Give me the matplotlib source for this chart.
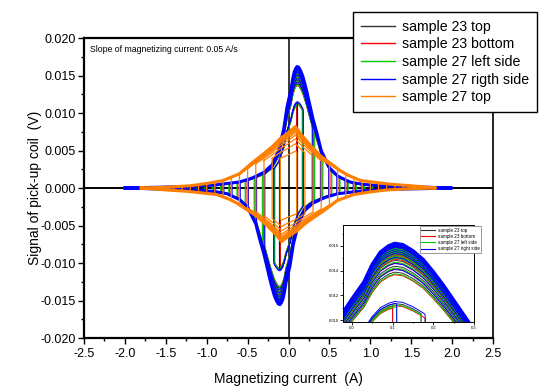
import numpy as np
import matplotlib
matplotlib.use("Agg")
from matplotlib import pyplot as plt
from matplotlib.lines import Line2D
from matplotlib.ticker import MultipleLocator, FormatStrFormatter

plt.rcParams['font.family'] = ['Liberation Sans', 'DejaVu Sans']

# positive branch (rising current) of the largest loop, samples 23 / 27 sides
env_x = np.array([-2.0, -1.6, -1.2, -0.9, -0.6, -0.45, -0.3, -0.2, -0.12, -0.06, -0.04, -0.02,
                  0.0, 0.03, 0.05, 0.07, 0.09, 0.105, 0.125, 0.15, 0.175, 0.2, 0.225, 0.25,
                  0.275, 0.3, 0.35, 0.4, 0.5, 0.6, 0.75, 0.9, 1.1, 1.4, 1.7, 2.0])
env_y = np.array([0.0, 0.0001, 0.0002, 0.0004, 0.0008, 0.0013, 0.0021, 0.0031, 0.0050, 0.0078,
                  0.0092, 0.0107, 0.0117, 0.0131, 0.0145, 0.0155, 0.0160, 0.0162, 0.0161,
                  0.0156, 0.0149, 0.0139, 0.0128, 0.0116, 0.0104, 0.0092, 0.0072, 0.0050,
                  0.0027, 0.0016, 0.0008, 0.0005, 0.0003, 0.0002, 0.0001, 0.0])

# positive branch of the largest loop, sample 27 top
org_x = np.array([-1.8, -1.5, -1.2, -1.0, -0.8, -0.6, -0.43, -0.3, -0.2, -0.1, 0.0, 0.085,
                  0.15, 0.25, 0.39, 0.55, 0.635, 0.73, 0.88, 1.1, 1.25, 1.5, 1.8])
org_y = np.array([0.0, 0.0001, 0.0003, 0.0006, 0.0010, 0.0019, 0.0035, 0.0046, 0.0055, 0.0066,
                  0.0074, 0.0082, 0.0072, 0.0059, 0.0043, 0.0030, 0.0023, 0.0017, 0.0010,
                  0.0007, 0.0005, 0.0003, 0.0])

# turning currents of each loop
amp_23_top = [0.10, 0.17, 0.30, 0.40, 0.50, 0.60, 0.70, 0.80, 0.90, 1.00, 1.10, 1.20, 1.30,
              1.40, 1.50, 1.60, 1.70, 1.80, 1.90]
amp_23_bottom = [0.10, 0.18, 0.31, 0.41, 0.52, 0.62, 0.72, 0.82, 0.92, 1.02, 1.12, 1.22, 1.32,
                 1.42, 1.52, 1.62, 1.72, 1.82, 1.92]
amp_27_left = [0.11, 0.17, 0.32, 0.42, 0.53, 0.63, 0.73, 0.83, 0.93, 1.03, 1.13, 1.23, 1.33,
               1.43, 1.53, 1.63, 1.73, 1.83, 1.93]
amp_27_right = [0.11, 0.18, 0.29, 0.39, 0.49, 0.59, 0.69, 0.79, 0.89, 0.99, 1.09, 1.19, 1.29,
                1.39, 1.49, 1.59, 1.69, 1.79, 1.89, 2.00]
amp_27_top = [0.10, 0.20, 0.30, 0.40, 0.50, 0.60, 0.70, 0.80, 0.90, 1.00, 1.10, 1.20, 1.30,
              1.40, 1.50, 1.60, 1.70, 1.80]

# peak height of each loop relative to the largest one
loop_scale = [0.70, 0.71, 0.87, 0.90, 0.93, 0.95, 0.96, 0.97, 0.98, 0.985, 0.99, 0.99, 0.995,
              0.995, 1.0, 1.0, 1.0, 1.0, 1.0, 1.0]
org_scale = [0.60, 0.72, 0.80, 0.86, 0.90, 0.93, 0.95, 0.96, 0.97, 0.98, 0.99, 0.99, 1.0, 1.0,
             1.0, 1.0, 1.0, 1.0]

labels = ['sample 23 top', 'sample 23 bottom', 'sample 27 left side', 'sample 27 rigth side',
          'sample 27 top']
inset_labels = ['sample 23 top', 'sample 23 bottom', 'sample 27 left side',
                'sample 27 right side']
colors = ['#333333', '#ff0000', '#00cc00', '#0000ff', '#ff8000']
sample_k = [0.985, 0.97, 0.975, 1.0]


def loop(ex, ey, A, k, neg_k):
	m = (ex > -A) & (ex < A)
	px = np.r_[-A, ex[m], A]
	py = np.r_[np.interp(-A, ex, ey), ey[m], np.interp(A, ex, ey)] * k
	lx = np.r_[px, -px, px[0]]
	ly = np.r_[py, -neg_k * py, py[0]]
	return lx, ly


def draw(ax, ex, ey, amps, scales, k, neg_k, color, lw, lw_outer):
	for i, A in enumerate(amps):
		lx, ly = loop(ex, ey, A, k * scales[i], neg_k)
		w = lw_outer if i == len(amps) - 1 else lw
		ax.plot(lx, ly, color=color, lw=w, zorder=2)


fig = plt.figure(figsize=(5.5, 3.89), dpi=100)
ax = fig.add_axes([0.1527, 0.1311, 0.7437, 0.7712])

ax.axhline(0, color='k', lw=1.4, zorder=1)
ax.axvline(0, color='k', lw=1.1, zorder=1)

main_amps = [amp_23_top, amp_23_bottom, amp_27_left, amp_27_right]
for i in range(4):
	outer = 2.2 if i == 3 else 1.0
	draw(ax, env_x, env_y, main_amps[i], loop_scale, sample_k[i], 0.96, colors[i], 0.8, outer)
draw(ax, org_x, org_y, amp_27_top, org_scale, 1.0, 0.87, colors[4], 0.9, 2.2)

ax.set_xlim(-2.5, 2.5)
ax.set_ylim(-0.02, 0.02)
ax.xaxis.set_major_locator(MultipleLocator(0.5))
ax.xaxis.set_minor_locator(MultipleLocator(0.25))
ax.yaxis.set_major_locator(MultipleLocator(0.005))
ax.yaxis.set_minor_locator(MultipleLocator(0.0025))
ax.yaxis.set_major_formatter(FormatStrFormatter('%.3f'))
ax.xaxis.set_major_formatter(FormatStrFormatter('%.1f'))
ax.tick_params(axis='x', which='major', direction='out', length=4, width=1, labelsize=9, pad=3.5)
ax.tick_params(axis='y', which='major', direction='out', length=4, width=1, labelsize=9, pad=2)
ax.tick_params(which='minor', direction='out', length=2.5, width=1)
for s in ax.spines.values():
	s.set_linewidth(1.6)
ax.spines['right'].set_linewidth(1.2)
ax.set_xlabel('Magnetizing current  (A)', fontsize=10, labelpad=8)
ax.set_ylabel('Signal of pick-up coil  (V)', fontsize=10, labelpad=-1)
ax.text(0.015, 0.963, 'Slope of magnetizing current: 0.05 A/s', transform=ax.transAxes,
        fontsize=6.3, va='center', ha='left')

handles = [Line2D([], [], color=c, lw=1) for c in colors]
leg = fig.legend(handles, labels, loc='upper right', bbox_to_anchor=(0.989, 0.988),
                 fontsize=10.2, handlelength=2.4, handletextpad=0.5, labelspacing=0.26,
                 borderpad=0.55, fancybox=False, framealpha=1, edgecolor='k')
leg.get_frame().set_linewidth(1.0)
leg.set_zorder(10)

# inset: zoom on the positive peak
ins = fig.add_axes([0.6236, 0.1722, 0.2382, 0.2494])
for i in range(4):
	outer = 2.6 if i == 3 else 0.9
	draw(ins, env_x, env_y, main_amps[i], loop_scale, sample_k[i], 0.96, colors[i], 0.7, outer)
ins.set_xlim(-0.022, 0.3)
ins.set_ylim(0.00984, 0.0177)
ins.xaxis.set_major_locator(MultipleLocator(0.1))
ins.xaxis.set_minor_locator(MultipleLocator(0.05))
ins.yaxis.set_major_locator(MultipleLocator(0.002))
ins.yaxis.set_minor_locator(MultipleLocator(0.001))
ins.yaxis.set_major_formatter(FormatStrFormatter('%.3f'))
ins.xaxis.set_major_formatter(FormatStrFormatter('%.1f'))
ins.tick_params(which='major', direction='out', length=2, width=0.6, labelsize=3, pad=1)
ins.tick_params(which='minor', direction='out', length=1, width=0.6)
for s in ins.spines.values():
	s.set_linewidth(0.7)
ih = [Line2D([], [], color=c, lw=0.8) for c in colors[:4]]
il = ins.legend(ih, inset_labels, loc='upper right', bbox_to_anchor=(1.07, 1.01),
                fontsize=3.3, handlelength=3, handletextpad=0.6, labelspacing=0.25,
                borderpad=0.3, fancybox=False, framealpha=1, edgecolor='#888888')
il.get_frame().set_linewidth(0.6)

fig.savefig('out.png', dpi=100)
